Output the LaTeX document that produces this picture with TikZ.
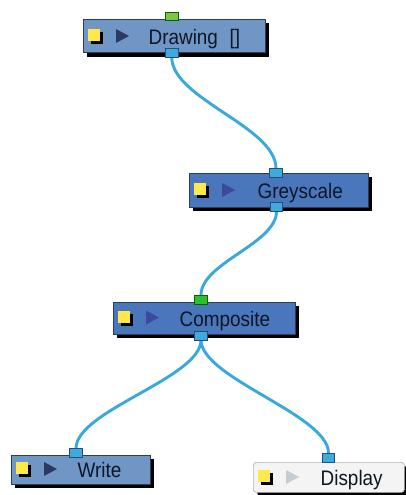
\documentclass[tikz,border=0pt]{standalone}
\usepackage{fontspec}
\setmainfont{Liberation Sans}[FakeStretch=0.9]
\usetikzlibrary{shadows}
\definecolor{wire}{HTML}{39A9DC}
\definecolor{portblue}{HTML}{3FAADB}
\definecolor{portline}{HTML}{1F4F7A}
\definecolor{greenA}{HTML}{82C341}
\definecolor{greenB}{HTML}{2EBE2E}
\definecolor{boxlight}{HTML}{7096C6}
\definecolor{boxdark}{HTML}{4A76BC}
\definecolor{boxline}{HTML}{2E3C58}
\definecolor{dispfill}{HTML}{F4F4F4}
\definecolor{displine}{HTML}{B4B4B4}
\definecolor{triA}{HTML}{2C3A62}
\definecolor{triB}{HTML}{3B4A9A}
\definecolor{triC}{HTML}{C5CCD3}
\definecolor{iconyellow}{HTML}{FFE84A}
\definecolor{txt}{HTML}{0D1526}
\newcommand\nodeicons[3]{%
  \fill[black] (#1+8,#2-4) rectangle (#1+20,#2+8);
  \fill[iconyellow] (#1+5,#2-7) rectangle (#1+17,#2+5);
  \fill[#3] (#1+33,#2-7) -- (#1+33,#2+7) -- (#1+46,#2) -- cycle;
}
\begin{document}
\begin{tikzpicture}[x=1pt,y=-1pt,
  box/.style={draw=boxline, line width=0.7pt, rectangle, anchor=north west, inner sep=0pt,
    drop shadow={opacity=1, fill=black, shadow xshift=4pt, shadow yshift=-4pt}},
  label/.style={anchor=base west, inner sep=0pt, font=\fontsize{21}{23}\selectfont, text=txt},
  port/.style={draw=portline, fill=portblue, line width=0.6pt, rectangle, inner sep=0pt,
    minimum width=12.5pt, minimum height=9pt},
  gport/.style={port, draw=black!60!green},
  wirestyle/.style={draw=wire, line width=2.9pt}
]
\useasboundingbox (0,0) rectangle (406,495);

% boxes
\node[box, fill=boxlight, minimum width=182pt, minimum height=33.5pt] (drawing) at (83,19) {};
\node[box, fill=boxdark, minimum width=179pt, minimum height=33.5pt] (greyscale) at (189,173) {};
\node[box, fill=boxdark, minimum width=182pt, minimum height=31.5pt] (composite) at (113,302) {};
\node[box, fill=boxlight, minimum width=139pt, minimum height=28.5pt] (write) at (11,455) {};
\node[box, fill=dispfill, draw=displine, rounded corners=3pt, minimum width=151pt, minimum height=30pt] (display) at (253,462) {};

% icons
\nodeicons{83}{36}{triA}
\nodeicons{189}{190}{triB}
\nodeicons{113}{317.5}{triB}
\nodeicons{11}{469}{triA}
\nodeicons{253}{477}{triC}

% labels
\node[label] (tDrawing) at (148.5,44.5) {Drawing\hspace{0.55em}[]};
\node[label] (tGreyscale) at (257.5,198.5) {Greyscale};
\node[label] (tComposite) at (179.5,326) {Composite};
\node[label] (tWrite) at (77.5,477.5) {Write};
\node[label] (tDisplay) at (320.5,485.5) {Display};

% wires (behind ports)
\coordinate (w1a) at (171.7,57);
\coordinate (w1b) at (276,168.5);
\coordinate (w2a) at (276.5,211.5);
\coordinate (w2b) at (201,295);
\coordinate (w3a) at (201,340);
\coordinate (w3b) at (76,448.5);
\coordinate (w4b) at (328.5,453);
\draw[wirestyle] (w1a) .. controls +(0,42) and +(0,-42) .. (w1b);
\draw[wirestyle] (w2a) .. controls +(0,32) and +(0,-32) .. (w2b);
\draw[wirestyle] (w3a) .. controls +(0,38) and +(0,-38) .. (w3b);
\draw[wirestyle] (w3a) .. controls +(0,38) and +(0,-38) .. (w4b);

% ports
\node[gport, fill=greenA, minimum height=8.5pt] (dIn) at (171.7,16.5) {};
\node[port] (dOut) at (171.7,52.8) {};
\node[port] (gIn) at (276,173) {};
\node[port] (gOut) at (276.5,207) {};
\node[gport, fill=greenB] (cIn) at (201,299.5) {};
\node[port] (cOut) at (201,335.5) {};
\node[port] (wIn) at (76,453) {};
\node[port] (dispIn) at (328.5,457.5) {};
\end{tikzpicture}
\end{document}
